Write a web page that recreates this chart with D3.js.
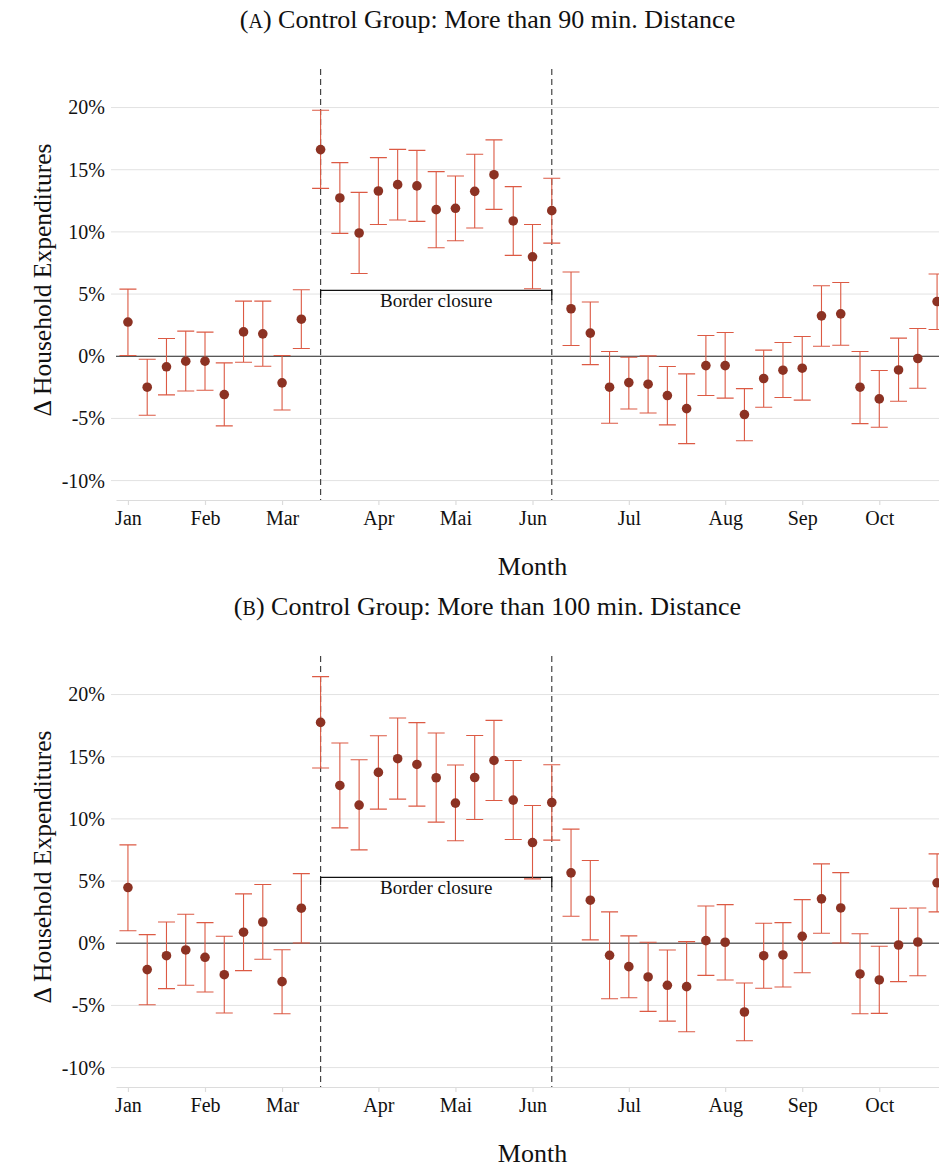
<!DOCTYPE html>
<html>
<head>
<meta charset="utf-8">
<script src="https://cdn.jsdelivr.net/npm/d3@7"></script>
<style>
  html, body { margin: 0; padding: 0; background: #fff; }
  svg { display: block; }
  text { font-family: "Liberation Serif", serif; fill: #111; }
</style>
</head>
<body>
<svg id="chart" width="939" height="1167"></svg>
<script>
// Weekly event-study estimates (in %), week 0 = first week of January
const weeks = d3.range(43);

// Panel A: control group more than 90 min away
const estA = [2.75, -2.49, -0.85, -0.40, -0.40, -3.08, 1.96, 1.80, -2.14, 2.98,
  16.62, 12.73, 9.91, 13.29, 13.80, 13.70, 11.79, 11.90, 13.26, 14.60, 10.88, 8.00, 11.71,
  3.82, 1.86, -2.49, -2.12, -2.25, -3.16, -4.21, -0.75, -0.75, -4.69, -1.79, -1.12, -0.96,
  3.25, 3.41, -2.49, -3.43, -1.10, -0.18, 4.40];
const loA = [0.06, -4.75, -3.11, -2.79, -2.73, -5.60, -0.48, -0.80, -4.32, 0.62,
  13.50, 9.88, 6.66, 10.60, 10.96, 10.85, 8.73, 9.29, 10.31, 11.81, 8.11, 5.43, 9.10,
  0.86, -0.67, -5.39, -4.24, -4.56, -5.52, -7.03, -3.16, -3.37, -6.79, -4.10, -3.32, -3.53,
  0.81, 0.89, -5.42, -5.71, -3.62, -2.57, 2.15];
const hiA = [5.40, -0.24, 1.43, 2.02, 1.94, -0.53, 4.43, 4.43, 0.06, 5.35,
  19.78, 15.57, 13.18, 15.97, 16.64, 16.56, 14.85, 14.50, 16.24, 17.40, 13.64, 10.60, 14.31,
  6.77, 4.36, 0.38, -0.08, 0.03, -0.83, -1.42, 1.67, 1.91, -2.60, 0.49, 1.10, 1.59,
  5.67, 5.93, 0.38, -1.15, 1.46, 2.23, 6.61];

// Panel B: control group more than 100 min away
const estB = [4.48, -2.12, -1.00, -0.54, -1.13, -2.53, 0.89, 1.71, -3.09, 2.82,
  17.76, 12.69, 11.11, 13.74, 14.84, 14.38, 13.31, 11.27, 13.33, 14.70, 11.51, 8.10, 11.32,
  5.66, 3.46, -0.97, -1.88, -2.71, -3.38, -3.49, 0.21, 0.08, -5.53, -1.00, -0.94, 0.56,
  3.57, 2.84, -2.47, -2.95, -0.14, 0.10, 4.86];
const loB = [1.01, -4.94, -3.65, -3.38, -3.92, -5.61, -2.20, -1.29, -5.67, 0.02,
  14.09, 9.28, 7.51, 10.79, 11.59, 11.03, 9.74, 8.24, 9.95, 11.48, 8.34, 5.18, 8.29,
  2.17, 0.27, -4.46, -4.38, -5.48, -6.26, -7.12, -2.58, -2.95, -7.84, -3.62, -3.52, -2.37,
  0.80, 0.02, -5.67, -5.64, -3.09, -2.61, 2.52];
const hiB = [7.91, 0.69, 1.71, 2.33, 1.66, 0.56, 3.97, 4.72, -0.52, 5.60,
  21.44, 16.10, 14.76, 16.69, 18.12, 17.74, 16.91, 14.33, 16.71, 17.92, 14.70, 11.08, 14.36,
  9.18, 6.65, 2.52, 0.59, 0.08, -0.54, 0.13, 3.00, 3.11, -3.20, 1.61, 1.66, 3.51,
  6.38, 5.68, 0.77, -0.24, 2.82, 2.84, 7.19];

// Month tick labels and the week on which each one sits
const monthLabels = ["Jan", "Feb", "Mar", "Apr", "Mai", "Jun", "Jul", "Aug", "Sep", "Oct"];
const monthWeeks = [0, 4, 8, 13, 17, 21, 26, 31, 35, 39];

// Y ticks (in %)
const yTicks = [-10, -5, 0, 5, 10, 15, 20];

// Border closure period (week indices) and bracket level
const closureStart = 10, closureEnd = 22, closureLevel = 5.3;

const panels = [
  { letter: "A", title: " Control Group: More than 90 min. Distance", est: estA, lo: loA, hi: hiA, dy: 0, zeroColor: "#222", zeroWidth: 1 },
  { letter: "B", title: " Control Group: More than 100 min. Distance", est: estB, lo: loB, hi: hiB, dy: 587, zeroColor: "#666", zeroWidth: 1.4 }
];

const svg = d3.select("#chart");

const x = d3.scaleLinear().domain([-0.62, 42.1]).range([116, 939]);

const errColor = "#dc5a44";
const dotColor = "#8c3223";

panels.forEach(p => {
  const g = svg.append("g").attr("transform", `translate(0,${p.dy})`);
  const y = d3.scaleLinear().domain([-11.56, 23.1]).range([500, 69]);

  // Title
  const t = g.append("text")
    .attr("x", 487.5).attr("y", 27.5)
    .attr("text-anchor", "middle")
    .style("font-size", "26px");
  t.append("tspan").text("(");
  t.append("tspan").style("font-size", "20px").text(p.letter);
  t.append("tspan").text(")" + p.title);

  // Gridlines
  g.append("g").selectAll("line").data(yTicks.filter(v => v !== 0)).join("line")
    .attr("x1", 111).attr("x2", 939)
    .attr("y1", d => y(d)).attr("y2", d => y(d))
    .attr("stroke", "#e2e2e2").attr("stroke-width", 1);

  // Y tick labels
  const yAxis = d3.axisLeft(y).tickValues(yTicks).tickFormat(d => d + "%").tickSize(0).tickPadding(0);
  const ya = g.append("g").attr("transform", "translate(105,0)").call(yAxis);
  ya.select(".domain").remove();
  ya.selectAll("text").style("font-size", "20px").attr("fill", "#111")
    .style("font-family", "\"Liberation Serif\", serif");

  // X axis
  const xAxis = d3.axisBottom(x).tickValues(monthWeeks)
    .tickFormat((d, i) => monthLabels[i]).tickSize(5).tickSizeOuter(0).tickPadding(6);
  const xa = g.append("g").attr("transform", "translate(0,500)").call(xAxis);
  xa.select(".domain").attr("stroke", "#dcdcdc").attr("stroke-width", 1.2);
  xa.selectAll(".tick line").attr("stroke", "#dcdcdc").attr("stroke-width", 1.2);
  xa.selectAll("text").style("font-size", "20px").attr("fill", "#111")
    .style("font-family", "\"Liberation Serif\", serif");

  // Zero line
  g.append("line")
    .attr("x1", 116).attr("x2", 939)
    .attr("y1", y(0)).attr("y2", y(0))
    .attr("stroke", p.zeroColor).attr("stroke-width", p.zeroWidth);

  // Closure markers
  g.append("g").selectAll("line").data([closureStart, closureEnd]).join("line")
    .attr("x1", d => x(d)).attr("x2", d => x(d))
    .attr("y1", 69).attr("y2", 500)
    .attr("stroke", "#444").attr("stroke-width", 1.2)
    .attr("stroke-dasharray", "6,4");

  // Border closure bracket
  const by = y(closureLevel);
  g.append("path")
    .attr("d", `M${x(closureStart)},${by + 8}V${by}H${x(closureEnd)}V${by + 10}`)
    .attr("fill", "none").attr("stroke", "#111").attr("stroke-width", 1.2);
  g.append("text")
    .attr("x", x((closureStart + closureEnd) / 2)).attr("y", by + 16.5)
    .attr("text-anchor", "middle")
    .style("font-size", "19px")
    .text("Border closure");

  // Error bars
  const eb = g.append("g").attr("stroke", errColor).attr("stroke-width", 1.1).attr("fill", "none");
  eb.selectAll("path").data(weeks).join("path")
    .attr("d", i => {
      const cx = x(i), h = 8.5, yl = y(p.lo[i]), yh = y(p.hi[i]);
      return `M${cx - h},${yh}H${cx + h}M${cx},${yh}V${yl}M${cx - h},${yl}H${cx + h}`;
    });

  // Point estimates
  g.append("g").selectAll("circle").data(weeks).join("circle")
    .attr("cx", i => x(i)).attr("cy", i => y(p.est[i]))
    .attr("r", 4.8).attr("fill", dotColor);

  // Axis titles
  g.append("text")
    .attr("x", 532.5).attr("y", 575)
    .attr("text-anchor", "middle")
    .style("font-size", "26px")
    .text("Month");
  g.append("text")
    .attr("transform", "translate(51,280) rotate(-90)")
    .attr("text-anchor", "middle")
    .style("font-size", "25.5px")
    .text("Δ Household Expenditures");
});
</script>
</body>
</html>
